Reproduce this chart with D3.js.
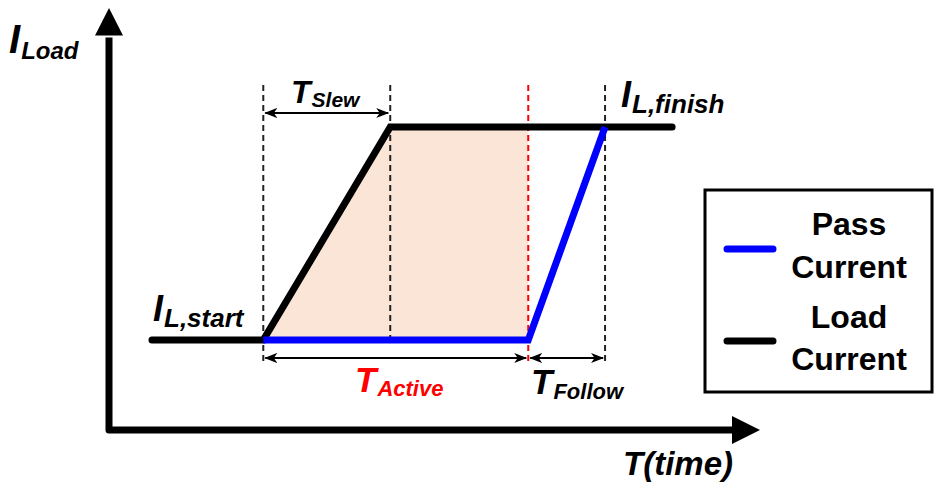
<!DOCTYPE html>
<html><head><meta charset="utf-8">
<script src="https://cdn.jsdelivr.net/npm/d3@7/dist/d3.min.js"></script>
<style>body{margin:0;background:#fff}svg{display:block}</style>
</head><body>
<svg id="chart" width="935" height="485"></svg>
<script>
// ---------- data (time units / current units) ----------
const loadTimes = [0.66, 2.37, 4.32, 8.65];
const loadValues = [2.13, 2.13, 7.18, 7.18];
const passTimes = [2.37, 6.44, 7.62];
const passValues = [2.13, 2.13, 7.18];
const activeTimes = [2.37, 4.32, 6.44, 6.44];
const activeValues = [2.13, 7.18, 7.18, 2.13];
const guideTimes = [2.37, 4.32, 6.44, 7.62];
const guideKinds = ["full", "upper", "red", "full"];
const spanNames = ["Slew", "Active", "Follow"];
const spanStarts = [2.37, 2.37, 6.44];
const spanEnds = [4.32, 6.44, 7.62];
const legendNames = ["Pass", "Load"];
const legendColors = ["#0000ff", "#000000"];

const svg = d3.select("#chart");
const x = d3.scaleLinear().domain([0, 10]).range([109, 760]);
const y = d3.scaleLinear().domain([0, 10]).range([430, 8]);
const line = d3.line().x(d => x(d[0])).y(d => y(d[1]));

// shaded active region
svg.append("path")
  .attr("d", line(activeTimes.map((t, i) => [t, activeValues[i]])) + "Z")
  .attr("fill", "#fbe5d6");

// arrow markers
const defs = svg.append("defs");
defs.append("marker").attr("id", "ah").attr("viewBox", "0 -5 13 10")
  .attr("refX", 12).attr("refY", 0).attr("markerWidth", 13).attr("markerHeight", 10)
  .attr("markerUnits", "userSpaceOnUse").attr("orient", "auto-start-reverse")
  .append("path").attr("d", "M0,-5L13,0L0,5L3.5,0Z").attr("fill", "#000");

// guide dashed lines
const guideTop = 85, guideBottom = 363;
guideTimes.forEach((t, i) => {
  const k = guideKinds[i];
  svg.append("line")
    .attr("x1", x(t)).attr("x2", x(t))
    .attr("y1", guideTop)
    .attr("y2", k === "upper" ? y(passValues[0]) - 2 : guideBottom)
    .attr("stroke", k === "red" ? "#ff0000" : "#222")
    .attr("stroke-width", 2)
    .attr("stroke-dasharray", "6,4");
});

// span arrows
const spanY = [113, 358, 358];
spanNames.forEach((n, i) => {
  svg.append("line")
    .attr("x1", x(spanStarts[i]) + 2).attr("x2", x(spanEnds[i]) - 2)
    .attr("y1", spanY[i]).attr("y2", spanY[i])
    .attr("stroke", "#000").attr("stroke-width", 1.8)
    .attr("marker-start", "url(#ah)").attr("marker-end", "url(#ah)");
});

// axes
svg.append("path")
  .attr("d", `M${x(0)},${y(9.3)}L${x(0)},${y(0)}L${x(9.6)},${y(0)}`)
  .attr("fill", "none").attr("stroke", "#000").attr("stroke-width", 7)
  .attr("stroke-linejoin", "round");
svg.append("path")
  .attr("d", `M${x(0)},${y(10)}L${x(0) + 14},${y(9.35)}L${x(0) - 14},${y(9.35)}Z`)
  .attr("fill", "#000");
svg.append("path")
  .attr("d", `M${x(10)},${y(0)}L${x(9.57)},${y(0) - 14}L${x(9.57)},${y(0) + 14}Z`)
  .attr("fill", "#000");

// load current (black)
svg.append("path")
  .attr("d", line(loadTimes.map((t, i) => [t, loadValues[i]])))
  .attr("fill", "none").attr("stroke", "#000").attr("stroke-width", 7)
  .attr("stroke-linecap", "round").attr("stroke-linejoin", "miter");
// pass current (blue)
svg.append("path")
  .attr("d", line(passTimes.map((t, i) => [t, passValues[i]])))
  .attr("fill", "none").attr("stroke", "#0000ff").attr("stroke-width", 7)
  .attr("stroke-linecap", "butt").attr("stroke-linejoin", "miter");

// labels
const F = "'Liberation Sans', Arial, sans-serif";
function subLabel(px, py, main, sub, mainSize, subSize, subDy, color) {
  const t = svg.append("text").attr("x", px).attr("y", py)
    .attr("font-family", F).attr("font-weight", "bold").attr("font-style", "italic")
    .attr("fill", color || "#000");
  t.append("tspan").attr("font-size", mainSize).text(main);
  t.append("tspan").attr("font-size", subSize).attr("dy", subDy).attr("dx", 1).text(sub);
}
subLabel(9, 53, "I", "Load", 40, 24, 6);
subLabel(291, 103, "T", "Slew", 32, 21, 4);
subLabel(621, 107, "I", "L,finish", 36, 26, 6);
subLabel(153, 321, "I", "L,start", 36, 26, 6);
subLabel(355, 392, "T", spanNames[1], 35, 22, 4, "#ff0000");
subLabel(531, 394, "T", spanNames[2], 35, 22, 5);
svg.append("text").attr("x", 623).attr("y", 475)
  .attr("font-family", F).attr("font-weight", "bold").attr("font-style", "italic")
  .attr("font-size", 33).text("T(time)");

// legend
svg.append("rect").attr("x", 705).attr("y", 190).attr("width", 227).attr("height", 202)
  .attr("fill", "#fff").attr("stroke", "#000").attr("stroke-width", 3);
const legY = [249, 341];
const legBase = [[235, 278], [328, 370]];
legendNames.forEach((n, i) => {
  svg.append("line").attr("x1", 727).attr("x2", 773).attr("y1", legY[i]).attr("y2", legY[i])
    .attr("stroke", legendColors[i]).attr("stroke-width", 7).attr("stroke-linecap", "round");
  [n, "Current"].forEach((w, j) => {
    svg.append("text").attr("x", 849).attr("y", legBase[i][j])
      .attr("text-anchor", "middle").attr("font-family", F).attr("font-weight", "bold")
      .attr("font-size", 32).text(w);
  });
});
</script>
</body></html>
